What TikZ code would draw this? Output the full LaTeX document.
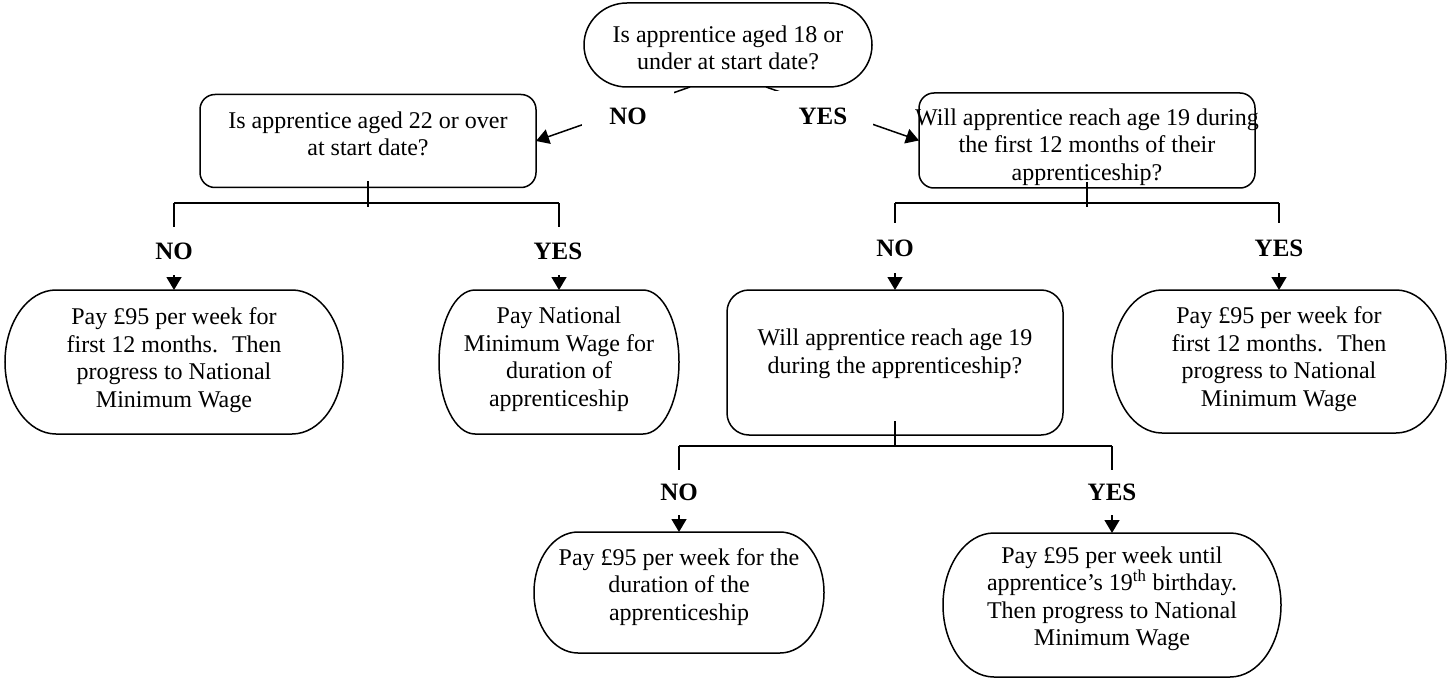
\documentclass[tikz,border=0pt]{standalone}
\usepackage{fontspec}
\setmainfont{Liberation Serif}
\usetikzlibrary{arrows.meta}
\newcommand\termpath[3]{%
  \draw[shapeline] ([xshift=#2pt]#1.north west) -- ([xshift=-#2pt]#1.north east)
    arc[start angle=90,end angle=-90,x radius=#2pt,y radius=#3pt]
    -- ([xshift=#2pt]#1.south west)
    arc[start angle=270,end angle=90,x radius=#2pt,y radius=#3pt] -- cycle;}
\tikzset{
  every node/.style={font=\fontsize{24}{27.5}\selectfont},
  shapeline/.style={line width=1.5pt, black},
  termbox/.style={draw=none, inner sep=0pt, outer sep=0pt},
  qbox/.style={draw, line width=1.5pt, rounded corners=15pt, inner sep=0pt, outer sep=0pt},
  txt/.style={align=center, inner sep=0pt},
  conn/.style={line width=1.5pt},
  arr/.style={line width=1.5pt, -{Triangle[length=13pt,width=15pt]}},
  lbl/.style={fill=white, inner sep=0pt, font=\fontsize{25}{28}\selectfont\bfseries}
}
\begin{document}
\begin{tikzpicture}[x=1pt,y=1pt]
\useasboundingbox (0,0) rectangle (1447,-679);
% shapes
\node[termbox, minimum width=288pt, minimum height=84pt] (q18) at (728,-45) {};
\termpath{q18}{43}{42}
\node[qbox, minimum width=336pt, minimum height=93pt] (q22) at (368,-141) {};
\node[qbox, minimum width=336pt, minimum height=95pt] (q19a) at (1087,-140.5) {};
\node[termbox, minimum width=338pt, minimum height=144pt] (t1) at (174,-362) {};
\termpath{t1}{51}{72}
\node[termbox, minimum width=240pt, minimum height=144pt] (t2) at (559,-362) {};
\termpath{t2}{36}{72}
\node[qbox, rounded corners=22pt, minimum width=336pt, minimum height=145pt] (q19b) at (895,-362.5) {};
\node[termbox, minimum width=334pt, minimum height=143pt] (t3) at (1279,-361.5) {};
\termpath{t3}{50}{71.5}
\node[termbox, minimum width=290pt, minimum height=121pt] (t4) at (679,-592.5) {};
\termpath{t4}{44}{60.5}
\node[termbox, minimum width=338pt, minimum height=144pt] (t5) at (1112,-605) {};
\termpath{t5}{51}{72}
% texts
\node[txt] (q18t) at (728,-48) {Is apprentice aged 18 or\\under at start date?};
\node[txt] (q22t) at (368,-134) {Is apprentice aged 22 or over\\at start date?};
\node[txt] (q19at) at (1087,-147) {Will apprentice reach age 19 during\\the first 12 months of their\\apprenticeship?};
\node[txt] (t1t) at (174,-360) {Pay £95 per week for\\first 12 months.~ Then\\progress to National\\Minimum Wage};
\node[txt] (t2t) at (559,-359) {Pay National\\Minimum Wage for\\duration of\\apprenticeship};
\node[txt] (q19bt) at (895,-354) {Will apprentice reach age 19\\during the apprenticeship?};
\node[txt] (t3t) at (1279,-359) {Pay £95 per week for\\first 12 months.~ Then\\progress to National\\Minimum Wage};
\node[txt] (t4t) at (679,-587) {Pay £95 per week for the\\duration of the\\apprenticeship};
\node[txt] (t5t) at (1112,-599) {Pay £95 per week until\\apprentice’s 19\textsuperscript{th} birthday.\\Then progress to National\\Minimum Wage};
% bracket coordinates
\coordinate (bl1) at (t1.north |- 0,-203);
\coordinate (bl2) at (t2.north |- 0,-203);
\coordinate (br1) at (q19b.north |- 0,-203);
\coordinate (br2) at (t3.north |- 0,-203);
\coordinate (bm1) at (t4.north |- 0,-446);
\coordinate (bm2) at (t5.north |- 0,-446);
% top arrows
\draw[arr] ([xshift=-38pt]q18.south) -- (q22.east);
\draw[arr] ([xshift=38pt]q18.south) -- (q19a.west);
% left bracket
\draw[conn] ([yshift=6pt]q22.south) -- ++(0,-25);
\draw[conn] (bl1) -- (bl2);
\draw[arr] (bl1) -- (t1.north);
\draw[arr] (bl2) -- (t2.north);
% right bracket
\draw[conn] ([yshift=6pt]q19a.south) -- ++(0,-25);
\draw[conn] (br1) -- (br2);
\draw[arr] (br1) -- (q19b.north);
\draw[arr] (br2) -- (t3.north);
% middle bracket
\draw[conn] ([yshift=14pt]q19b.south) -- ++(0,-26);
\draw[conn] (bm1) -- (bm2);
\draw[arr] (bm1) -- (t4.north);
\draw[arr] (bm2) -- (t5.north);
% labels
\node[lbl, minimum width=92pt, minimum height=50pt] (lno0) at (628,-116) {NO};
\node[lbl, minimum width=100pt, minimum height=50pt] (lyes0) at (823,-116) {YES};
\node[lbl, minimum width=70pt, minimum height=48pt] (lno1) at (174,-251) {NO};
\node[lbl, minimum width=70pt, minimum height=48pt] (lyes1) at (558,-251) {YES};
\node[lbl, minimum width=70pt, minimum height=50pt] (lno2) at (895,-248) {NO};
\node[lbl, minimum width=70pt, minimum height=50pt] (lyes2) at (1279,-248) {YES};
\node[lbl, minimum width=70pt, minimum height=45pt] (lno3) at (679,-492) {NO};
\node[lbl, minimum width=70pt, minimum height=45pt] (lyes3) at (1112,-492) {YES};
\end{tikzpicture}
\end{document}
